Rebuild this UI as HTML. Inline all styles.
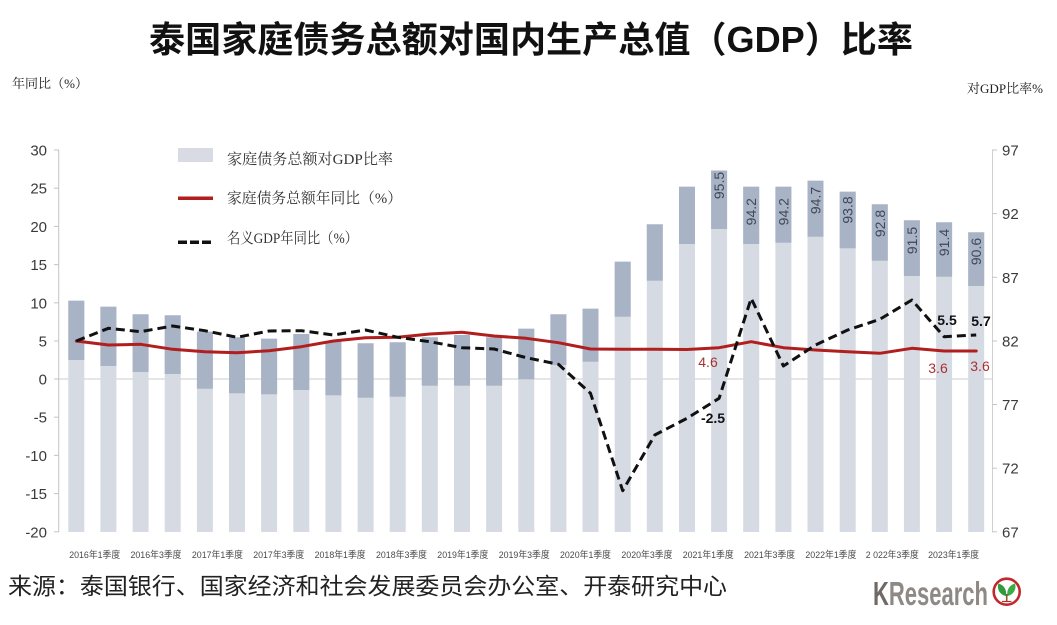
<!DOCTYPE html>
<html>
<head>
<meta charset="utf-8">
<style>
  html,body{margin:0;padding:0;background:#fff;}
  svg{display:block;}
  .ax{font-family:"Liberation Sans",Arial,sans-serif;font-size:15px;fill:#3a3a3a;}
  .cjk{font-family:"Liberation Sans","Noto Sans CJK SC",sans-serif;}
  .serif{font-family:"Liberation Serif","Noto Serif CJK SC","Noto Sans CJK SC",serif;}
  .xl{font-family:"Liberation Sans","Noto Sans CJK SC",sans-serif;font-size:9.5px;fill:#4a4a4a;}
  .bl{font-family:"Liberation Sans",Arial,sans-serif;font-size:14px;fill:#3f4859;}
</style>
</head>
<body>
<svg width="1057" height="625" viewBox="0 0 1057 625" xmlns="http://www.w3.org/2000/svg">
  <rect width="1057" height="625" fill="#fff"/>

  <!-- Title -->
  <text x="531" y="52" text-anchor="middle" class="cjk" font-size="36" font-weight="bold" fill="#111" textLength="764" lengthAdjust="spacingAndGlyphs">泰国家庭债务总额对国内生产总值（GDP）比率</text>

  <!-- axis titles -->
  <text x="12" y="88" class="serif" font-size="13" fill="#222" textLength="76" lengthAdjust="spacingAndGlyphs">年同比（%）</text>
  <text x="967" y="93" class="serif" font-size="13" fill="#222" textLength="76" lengthAdjust="spacingAndGlyphs">对GDP比率%</text>

  <!-- zero gridline -->
  <line x1="59" y1="379" x2="992" y2="379" stroke="#d6d6d6" stroke-width="1.2"/>

  <!-- Bars -->
  <g>
    <g fill="#d6dae3">
      <rect x="68.3" y="300.7" width="16" height="231.3"/>
      <rect x="100.4" y="306.7" width="16" height="225.3"/>
      <rect x="132.6" y="314.3" width="16" height="217.7"/>
      <rect x="164.7" y="315.3" width="16" height="216.7"/>
      <rect x="196.9" y="331.7" width="16" height="200.3"/>
      <rect x="229.0" y="337.3" width="16" height="194.7"/>
      <rect x="261.1" y="338.7" width="16" height="193.3"/>
      <rect x="293.3" y="334" width="16" height="198"/>
      <rect x="325.4" y="341.7" width="16" height="190.3"/>
      <rect x="357.6" y="343.3" width="16" height="188.7"/>
      <rect x="389.7" y="342.3" width="16" height="189.7"/>
      <rect x="421.8" y="337.3" width="16" height="194.7"/>
      <rect x="454.0" y="335" width="16" height="197"/>
      <rect x="486.1" y="337.3" width="16" height="194.7"/>
      <rect x="518.3" y="328.7" width="16" height="203.3"/>
      <rect x="550.4" y="314.3" width="16" height="217.7"/>
      <rect x="582.5" y="308.7" width="16" height="223.3"/>
      <rect x="614.7" y="261.7" width="16" height="270.3"/>
      <rect x="646.8" y="224.3" width="16" height="307.7"/>
      <rect x="679.0" y="186.7" width="16" height="345.3"/>
      <rect x="711.1" y="170.5" width="16" height="361.5"/>
      <rect x="743.2" y="186.7" width="16" height="345.3"/>
      <rect x="775.4" y="186.7" width="16" height="345.3"/>
      <rect x="807.5" y="180.7" width="16" height="351.3"/>
      <rect x="839.7" y="191.7" width="16" height="340.3"/>
      <rect x="871.8" y="204.3" width="16" height="327.7"/>
      <rect x="903.9" y="220.3" width="16" height="311.7"/>
      <rect x="936.1" y="222.3" width="16" height="309.7"/>
      <rect x="968.2" y="232.3" width="16" height="299.7"/>
    </g>
    <g fill="#a9b3c6">
      <rect x="68.3" y="300.7" width="16" height="59.3"/>
      <rect x="100.4" y="306.7" width="16" height="59.3"/>
      <rect x="132.6" y="314.3" width="16" height="57.7"/>
      <rect x="164.7" y="315.3" width="16" height="58.7"/>
      <rect x="196.9" y="331.7" width="16" height="57"/>
      <rect x="229.0" y="337.3" width="16" height="56"/>
      <rect x="261.1" y="338.7" width="16" height="55.6"/>
      <rect x="293.3" y="334" width="16" height="56"/>
      <rect x="325.4" y="341.7" width="16" height="53.6"/>
      <rect x="357.6" y="343.3" width="16" height="54.4"/>
      <rect x="389.7" y="342.3" width="16" height="54.4"/>
      <rect x="421.8" y="337.3" width="16" height="48.4"/>
      <rect x="454.0" y="335" width="16" height="50.7"/>
      <rect x="486.1" y="337.3" width="16" height="48.4"/>
      <rect x="518.3" y="328.7" width="16" height="50.6"/>
      <rect x="550.4" y="314.3" width="16" height="50.7"/>
      <rect x="582.5" y="308.7" width="16" height="53"/>
      <rect x="614.7" y="261.7" width="16" height="55"/>
      <rect x="646.8" y="224.3" width="16" height="56.4"/>
      <rect x="679.0" y="186.7" width="16" height="57.3"/>
      <rect x="711.1" y="170.5" width="16" height="58.5"/>
      <rect x="743.2" y="186.7" width="16" height="57.3"/>
      <rect x="775.4" y="186.7" width="16" height="56"/>
      <rect x="807.5" y="180.7" width="16" height="56"/>
      <rect x="839.7" y="191.7" width="16" height="56.6"/>
      <rect x="871.8" y="204.3" width="16" height="56.4"/>
      <rect x="903.9" y="220.3" width="16" height="55.7"/>
      <rect x="936.1" y="222.3" width="16" height="54.4"/>
      <rect x="968.2" y="232.3" width="16" height="53.7"/>
    </g>
  </g>

  <!-- rotated bar labels -->
  <g class="bl" text-anchor="middle">
    <text transform="translate(719.1,185.5) rotate(-90)" dy="5">95.5</text>
    <text transform="translate(751.2,211.7) rotate(-90)" dy="5">94.2</text>
    <text transform="translate(783.4,211.7) rotate(-90)" dy="5">94.2</text>
    <text transform="translate(815.5,200.5) rotate(-90)" dy="5">94.7</text>
    <text transform="translate(847.7,210) rotate(-90)" dy="5">93.8</text>
    <text transform="translate(879.8,223.5) rotate(-90)" dy="5">92.8</text>
    <text transform="translate(911.9,240.5) rotate(-90)" dy="5">91.5</text>
    <text transform="translate(944.1,242.5) rotate(-90)" dy="5">91.4</text>
    <text transform="translate(976.2,251.5) rotate(-90)" dy="5">90.6</text>
  </g>

  <!-- axes -->
  <line x1="58.7" y1="150" x2="58.7" y2="532" stroke="#c4c4c4" stroke-width="1"/>
  <line x1="992.5" y1="150" x2="992.5" y2="532" stroke="#d0d0d0" stroke-width="1"/>
  <g stroke="#c4c4c4" stroke-width="1">
    <line x1="54" y1="150" x2="59" y2="150"/>
    <line x1="54" y1="188.2" x2="59" y2="188.2"/>
    <line x1="54" y1="226.4" x2="59" y2="226.4"/>
    <line x1="54" y1="264.6" x2="59" y2="264.6"/>
    <line x1="54" y1="302.8" x2="59" y2="302.8"/>
    <line x1="54" y1="341" x2="59" y2="341"/>
    <line x1="54" y1="379" x2="59" y2="379"/>
    <line x1="54" y1="417.2" x2="59" y2="417.2"/>
    <line x1="54" y1="455.4" x2="59" y2="455.4"/>
    <line x1="54" y1="493.6" x2="59" y2="493.6"/>
    <line x1="54" y1="531.8" x2="59" y2="531.8"/>
    <line x1="992" y1="150" x2="997" y2="150"/>
    <line x1="992" y1="213.6" x2="997" y2="213.6"/>
    <line x1="992" y1="277.3" x2="997" y2="277.3"/>
    <line x1="992" y1="341" x2="997" y2="341"/>
    <line x1="992" y1="404.5" x2="997" y2="404.5"/>
    <line x1="992" y1="468.2" x2="997" y2="468.2"/>
    <line x1="992" y1="531.8" x2="997" y2="531.8"/>
  </g>

  <!-- left axis labels -->
  <g class="ax" text-anchor="end">
    <text x="47" y="155.5">30</text>
    <text x="47" y="193.7">25</text>
    <text x="47" y="231.9">20</text>
    <text x="47" y="270.1">15</text>
    <text x="47" y="308.3">10</text>
    <text x="47" y="346.5">5</text>
    <text x="47" y="384.5">0</text>
    <text x="47" y="422.7">-5</text>
    <text x="47" y="460.9">-10</text>
    <text x="47" y="499.1">-15</text>
    <text x="47" y="537.3">-20</text>
  </g>
  <!-- right axis labels -->
  <g class="ax">
    <text x="1002" y="155.5">97</text>
    <text x="1002" y="219.1">92</text>
    <text x="1002" y="282.8">87</text>
    <text x="1002" y="346.5">82</text>
    <text x="1002" y="410">77</text>
    <text x="1002" y="473.7">72</text>
    <text x="1002" y="537.3">67</text>
  </g>

  <!-- x labels -->
  <g class="xl" text-anchor="middle">
    <text x="94.7" y="558" textLength="51" lengthAdjust="spacingAndGlyphs">2016年1季度</text>
    <text x="156.0" y="558" textLength="51" lengthAdjust="spacingAndGlyphs">2016年3季度</text>
    <text x="217.4" y="558" textLength="51" lengthAdjust="spacingAndGlyphs">2017年1季度</text>
    <text x="278.7" y="558" textLength="51" lengthAdjust="spacingAndGlyphs">2017年3季度</text>
    <text x="340.1" y="558" textLength="51" lengthAdjust="spacingAndGlyphs">2018年1季度</text>
    <text x="401.5" y="558" textLength="51" lengthAdjust="spacingAndGlyphs">2018年3季度</text>
    <text x="462.8" y="558" textLength="51" lengthAdjust="spacingAndGlyphs">2019年1季度</text>
    <text x="524.2" y="558" textLength="51" lengthAdjust="spacingAndGlyphs">2019年3季度</text>
    <text x="585.5" y="558" textLength="51" lengthAdjust="spacingAndGlyphs">2020年1季度</text>
    <text x="646.9" y="558" textLength="51" lengthAdjust="spacingAndGlyphs">2020年3季度</text>
    <text x="708.2" y="558" textLength="51" lengthAdjust="spacingAndGlyphs">2021年1季度</text>
    <text x="769.6" y="558" textLength="51" lengthAdjust="spacingAndGlyphs">2021年3季度</text>
    <text x="830.9" y="558" textLength="51" lengthAdjust="spacingAndGlyphs">2022年1季度</text>
    <text x="892.3" y="558" textLength="53" lengthAdjust="spacingAndGlyphs">2 022年3季度</text>
    <text x="953.6" y="558" textLength="51" lengthAdjust="spacingAndGlyphs">2023年1季度</text>
  </g>

  <!-- red line -->
  <polyline fill="none" stroke="#b01e1e" stroke-width="3" stroke-linejoin="round" stroke-linecap="round"
    points="76.3,341 108.4,345 140.6,344.3 172.7,349.3 204.9,351.7 237,352.7 269.1,350.7 301.3,346.7 333.4,341 365.6,337.7 397.7,337.3 429.8,334 462,332.3 494.1,336 526.3,338.3 558.4,342.7 590.5,349 622.7,349.3 654.8,349.3 687,349.5 719.1,347.7 751.2,341.7 783.4,347.7 815.5,350 847.7,351.7 879.8,353.3 911.9,348.3 944.1,351 976.2,351"/>

  <!-- black dashed line -->
  <polyline fill="none" stroke="#111" stroke-width="3" stroke-dasharray="9,5" stroke-linejoin="round"
    points="76.3,341 108.4,328.3 140.6,331.7 172.7,326 204.9,330.7 237,337.3 269.1,331 301.3,330.7 333.4,335 365.6,330 397.7,337.3 429.8,341.7 462,347.7 494.1,349 526.3,357.7 558.4,364.3 590.5,393.3 622.7,490.7 654.8,435 687,418.3 719.1,398.3 751.2,298.3 783.4,366 815.5,345 847.7,330 879.8,319.3 911.9,300 944.1,336.7 976.2,335"/>

  <!-- data labels -->
  <g font-family="Liberation Sans, Arial, sans-serif" font-size="14" text-anchor="middle">
    <text x="708" y="367" fill="#a83232">4.6</text>
    <text x="938" y="373" fill="#a83232">3.6</text>
    <text x="980" y="371" fill="#a83232">3.6</text>
    <text x="713" y="423" fill="#111" font-weight="bold">-2.5</text>
    <text x="947" y="325" fill="#111" font-weight="bold">5.5</text>
    <text x="981" y="326" fill="#111" font-weight="bold">5.7</text>
  </g>

  <!-- legend -->
  <rect x="178" y="148" width="35" height="14" fill="#d8dbe3"/>
  <line x1="178" y1="198.3" x2="213" y2="198.3" stroke="#b01e1e" stroke-width="3.5"/>
  <line x1="178" y1="242.3" x2="213" y2="242.3" stroke="#111" stroke-width="3.5" stroke-dasharray="9,3"/>
  <g class="serif" font-size="15" fill="#333">
    <text x="227" y="164" textLength="166" lengthAdjust="spacingAndGlyphs">家庭债务总额对GDP比率</text>
    <text x="227" y="203" textLength="175" lengthAdjust="spacingAndGlyphs">家庭债务总额年同比（%）</text>
    <text x="227" y="243" textLength="131" lengthAdjust="spacingAndGlyphs">名义GDP年同比（%）</text>
  </g>

  <!-- source -->
  <text x="8" y="594" class="cjk" font-size="23" fill="#222" textLength="719" lengthAdjust="spacingAndGlyphs">来源：泰国银行、国家经济和社会发展委员会办公室、开泰研究中心</text>

  <!-- logo -->
  <text x="873" y="605" font-family="Liberation Sans, Arial, sans-serif" font-weight="bold" font-size="33" textLength="115" lengthAdjust="spacingAndGlyphs"><tspan fill="#6f6a66">K</tspan><tspan fill="#8e8984">Research</tspan></text>
  <circle cx="1006.7" cy="591.7" r="13" fill="#fff" stroke="#c0282d" stroke-width="2.6"/>
  <path d="M1006,596 C1000,595 996.5,589 998.5,583.5 C1004,585 1007,590 1006,596 Z" fill="#2e9b3c"/>
  <path d="M1007.4,596 C1013.4,595 1016.9,589 1014.9,583.5 C1009.4,585 1006.4,590 1007.4,596 Z" fill="#3aab47"/>
  <line x1="1006.7" y1="594" x2="1006.7" y2="601" stroke="#7a5a3a" stroke-width="1.6"/>
  <line x1="1002" y1="601.5" x2="1011.4" y2="601.5" stroke="#c0282d" stroke-width="1.2"/>
</svg>
</body>
</html>
